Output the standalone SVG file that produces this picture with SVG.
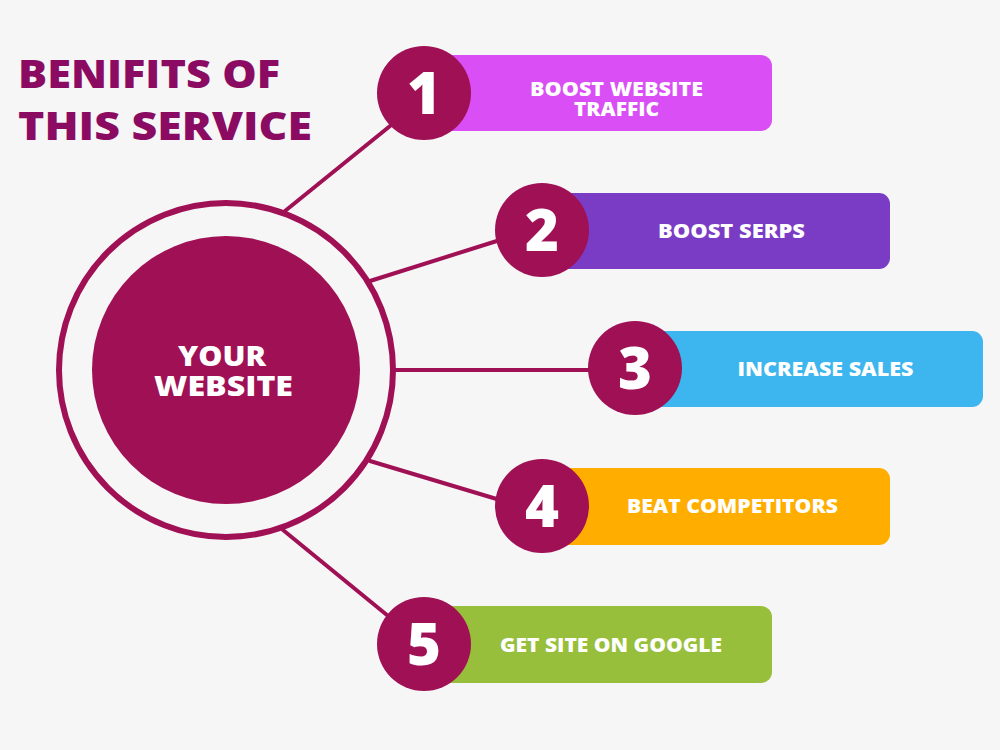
<svg xmlns="http://www.w3.org/2000/svg" width="1000" height="750" viewBox="0 0 1000 750">
<style>
.bg{fill:#f6f6f6}
.conn line{stroke:#a01055;stroke-width:4;stroke-linecap:round}
.num{fill:#a01055}
.numt{font-family:"Open Sans","Lato","Liberation Sans",sans-serif;font-weight:800;font-size:58px;fill:#ffffff;text-anchor:middle}
.lbl{font-family:"Open Sans","Lato","Liberation Sans",sans-serif;font-weight:800;font-size:19px;fill:#ffffff;text-anchor:middle}
.title{font-family:"Open Sans","Lato","Liberation Sans",sans-serif;font-weight:800;font-size:39px;fill:#8c0b62}
.ctr{font-family:"Open Sans","Lato","Liberation Sans",sans-serif;font-weight:800;font-size:29px;fill:#ffffff;text-anchor:middle}
</style>
<rect class="bg" x="0" y="0" width="1000" height="750"/>
<g id="title">
<text class="title" x="18" y="88" textLength="262" lengthAdjust="spacingAndGlyphs">BENIFITS OF</text>
<text class="title" x="18" y="140" textLength="294" lengthAdjust="spacingAndGlyphs">THIS SERVICE</text>
</g>
<g id="connectors" class="conn">
<line x1="285" y1="211" x2="395" y2="122"/>
<line x1="370" y1="281" x2="500" y2="240"/>
<line x1="396" y1="370" x2="592" y2="370"/>
<line x1="370" y1="461" x2="500" y2="500"/>
<line x1="283" y1="530" x2="393" y2="620"/>
</g>
<g id="center">
<circle cx="226" cy="370" r="167" fill="none" stroke="#a01055" stroke-width="6"/>
<circle cx="226" cy="370" r="134" fill="#a01055"/>
<text class="ctr" x="222" y="366" textLength="88" lengthAdjust="spacingAndGlyphs">YOUR</text>
<text class="ctr" x="223.5" y="396" textLength="139" lengthAdjust="spacingAndGlyphs">WEBSITE</text>
</g>
<g id="item1">
<rect x="430" y="55" width="342" height="76" rx="11" fill="#d94ff5"/>
<circle class="num" cx="424" cy="93" r="47"/>
<text class="numt" x="424" y="114">1</text>
<text class="lbl" x="616.5" y="96" textLength="173" lengthAdjust="spacingAndGlyphs">BOOST WEBSITE</text>
<text class="lbl" x="616.5" y="116" textLength="85" lengthAdjust="spacingAndGlyphs">TRAFFIC</text>
</g>
<g id="item2">
<rect x="550" y="193" width="340" height="76" rx="11" fill="#7b3cc5"/>
<circle class="num" cx="542" cy="230" r="47"/>
<text class="numt" x="542" y="251">2</text>
<text class="lbl" x="731.5" y="238" textLength="147" lengthAdjust="spacingAndGlyphs">BOOST SERPS</text>
</g>
<g id="item3">
<rect x="640" y="331" width="343" height="76" rx="11" fill="#3db5ee"/>
<circle class="num" cx="635" cy="368" r="47"/>
<text class="numt" x="635" y="389">3</text>
<text class="lbl" x="825.5" y="376" textLength="176" lengthAdjust="spacingAndGlyphs">INCREASE SALES</text>
</g>
<g id="item4">
<rect x="550" y="468" width="340" height="77" rx="11" fill="#ffae00"/>
<circle class="num" cx="542" cy="506" r="47"/>
<text class="numt" x="542" y="527">4</text>
<text class="lbl" x="732.5" y="513" textLength="211" lengthAdjust="spacingAndGlyphs">BEAT COMPETITORS</text>
</g>
<g id="item5">
<rect x="430" y="606" width="342" height="77" rx="11" fill="#97bf3b"/>
<circle class="num" cx="424" cy="644" r="47"/>
<text class="numt" x="424" y="665">5</text>
<text class="lbl" x="611" y="652" textLength="222" lengthAdjust="spacingAndGlyphs">GET SITE ON GOOGLE</text>
</g>
</svg>
